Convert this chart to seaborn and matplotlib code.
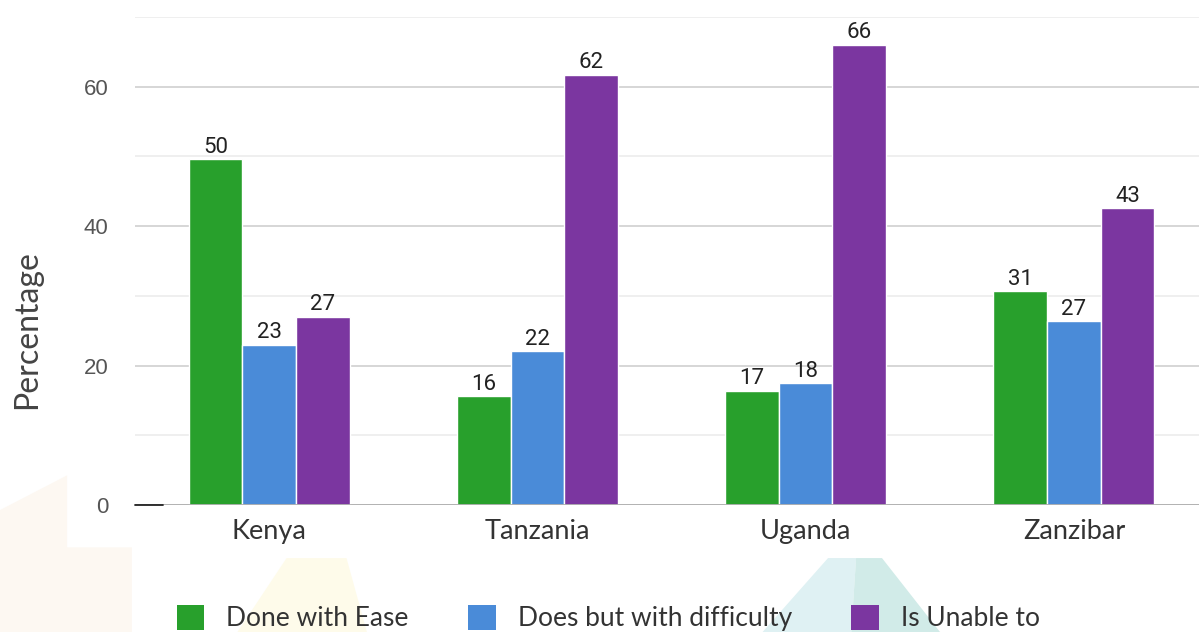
import matplotlib
matplotlib.use("Agg")
from matplotlib import pyplot as plt
from matplotlib.patches import Polygon, Patch
import pandas as pd
import seaborn as sns

regions = ["Kenya", "Tanzania", "Uganda", "Zanzibar"]
series = ["Done with Ease", "Does but with difficulty", "Is Unable to"]
ease = [49.6, 15.6, 16.4, 30.7]
difficulty = [23.0, 22.1, 17.5, 26.4]
unable = [27.0, 61.7, 66.0, 42.6]
ease_labels = ["50", "16", "17", "31"]
difficulty_labels = ["23", "22", "18", "27"]
unable_labels = ["27", "62", "66", "43"]
colors = ["#28a02c", "#4a8bd8", "#7b36a0"]

df = pd.DataFrame({
    "Region": regions * 3,
    "Group": [series[0]] * 4 + [series[1]] * 4 + [series[2]] * 4,
    "Value": ease + difficulty + unable,
})

sns.set_style("white")
plt.rcParams["font.family"] = ["Lato", "DejaVu Sans"]

fig = plt.figure(figsize=(11.99, 6.32), dpi=100)

# faint background watermark shapes (figure fractions)
bg = [
    ([(0, 0), (0, 0.193), (0.056, 0.248), (0.056, 0.134), (0.11, 0.134), (0.11, 0)], "#fdf8f2"),
    ([(0.198, 0), (0.239, 0.117), (0.289, 0.117), (0.306, 0)], "#fefbea"),
    ([(0.636, 0), (0.6906, 0.117), (0.714, 0.117), (0.71, 0)], "#dff1f3"),
    ([(0.71, 0), (0.714, 0.117), (0.7356, 0.117), (0.784, 0)], "#d1ebe8"),
]
for pts, c in bg:
    fig.patches.append(Polygon(pts, closed=True, transform=fig.transFigure,
                               facecolor=c, edgecolor="none", zorder=-1))

ax = fig.add_axes([135 / 1199, 1 - 505 / 632, 1073 / 1199, 488 / 632])
ax.set_zorder(2)
ax.patch.set_alpha(0)

sns.barplot(data=df, x="Region", y="Value", hue="Group", order=regions,
            hue_order=series, palette=colors, width=0.6, saturation=1,
            edgecolor="white", linewidth=1, legend=False, ax=ax, zorder=3)

for cont, labs in zip(ax.containers, [ease_labels, difficulty_labels, unable_labels]):
    ax.bar_label(cont, labels=labs, padding=1, fontsize=16,
                 color="#222222", family="Roboto")

ax.set_ylim(0, 70)
ax.set_xlim(-0.5, 3.5)
ax.set_yticks([0, 20, 40, 60])
ax.set_yticks([10, 30, 50, 70], minor=True)
ax.grid(axis="y", which="major", color="#d6d6d6", linewidth=1.4, zorder=0)
ax.grid(axis="y", which="minor", color="#ececec", linewidth=1.2, zorder=0)
ax.tick_params(axis="y", which="both", length=0, pad=19)
ax.tick_params(axis="x", length=0, pad=10)
for lab in ax.get_yticklabels():
    lab.set_family("Liberation Sans")
    lab.set_fontsize(16)
    lab.set_color("#555555")
for lab in ax.get_xticklabels():
    lab.set_fontsize(19.5)
    lab.set_color("#333333")

ax.axhline(0, color="#b0b0b0", linewidth=1.3, zorder=4)
ax.plot([0, 0.026], [0, 0], color="#222222", linewidth=1.3,
        transform=ax.get_yaxis_transform(), zorder=5, clip_on=False)

ax.set_xlabel("")
ax.set_ylabel("Percentage", fontsize=23, color="#444444")
ax.yaxis.set_label_coords(-0.0867, 0.359)
sns.despine(ax=ax, left=True, bottom=True, right=True, top=True)

handles = [Patch(facecolor=c, edgecolor="none") for c in colors]
fig.legend(handles, series, loc="center left", bbox_to_anchor=(153 / 1199, 1 - 618 / 632),
           ncol=3, frameon=False, fontsize=19, handlelength=1.05, handleheight=1.1,
           handletextpad=0.83, columnspacing=2.25, labelcolor="#333333")

fig.savefig("out.png", dpi=100)
